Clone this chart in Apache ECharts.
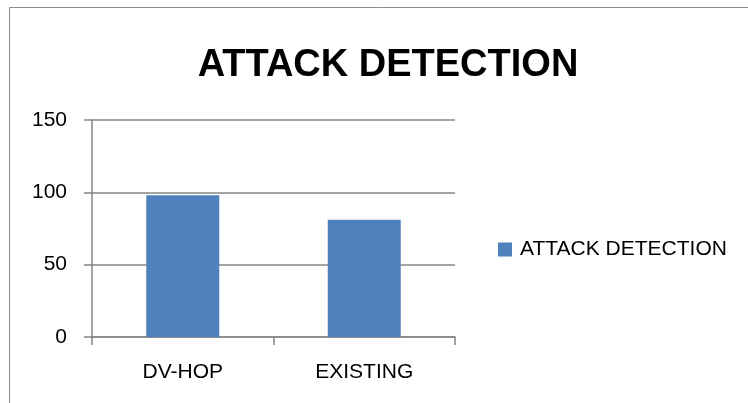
<!DOCTYPE html>
<html>
<head>
<meta charset="utf-8">
<script src="https://cdn.jsdelivr.net/npm/echarts@6/dist/echarts.min.js"></script>
<style>html,body{margin:0;padding:0;background:#fff}#c{width:748px;height:403px}</style>
</head>
<body>
<div id="c"></div>
<script>
const titleText = 'ATTACK DETECTION';
const categories = ['DV-HOP', 'EXISTING'];
const seriesName = 'ATTACK DETECTION';
const values = [98, 81];
const yTicks = [0, 50, 100, 150];

const chart = echarts.init(document.getElementById('c'), null, {renderer: 'canvas'});
const font = 'Liberation Sans, Arial, sans-serif';
chart.setOption({
  animation: false,
  backgroundColor: '#fff',
  graphic: [{
    type: 'rect', shape: {x: 9.5, y: 7.5, width: 800, height: 450},
    style: {fill: 'none', stroke: '#8c8c8c', lineWidth: 1}, silent: true, z: -1
  }],
  title: {
    text: titleText, left: 383, top: 42, textAlign: 'center',
    textStyle: {fontFamily: font, fontSize: 38, fontWeight: 'bold', color: '#000'}
  },
  legend: {
    left: 498, top: 239, padding: 0, itemWidth: 14, itemHeight: 14, itemGap: 10,
    icon: 'rect',
    textStyle: {fontFamily: font, fontSize: 21, color: '#000', padding: [0,0,0,3]},
    data: [seriesName]
  },
  grid: {left: 92, right: 293, top: 120, bottom: 66, containLabel: false},
  xAxis: {
    type: 'category', data: categories, boundaryGap: true,
    axisLine: {show: true, lineStyle: {color: '#868686', width: 1.5}},
    axisTick: {show: true, length: 8, alignWithLabel: false, lineStyle: {color: '#868686', width: 1.5}},
    axisLabel: {fontFamily: font, fontSize: 21, color: '#000', margin: 25}
  },
  yAxis: {
    type: 'value', min: yTicks[0], max: yTicks[yTicks.length - 1], interval: 50,
    axisLine: {show: true, lineStyle: {color: '#868686', width: 1.5}},
    axisTick: {show: true, length: 8, lineStyle: {color: '#868686', width: 1.5}},
    splitLine: {show: true, lineStyle: {color: '#868686', width: 1.5}},
    axisLabel: {fontFamily: font, fontSize: 21, color: '#000', margin: 25}
  },
  series: [{
    name: seriesName, type: 'bar', data: values, barWidth: 73,
    itemStyle: {color: '#4F81BD'}
  }]
});
</script>
</body>
</html>
